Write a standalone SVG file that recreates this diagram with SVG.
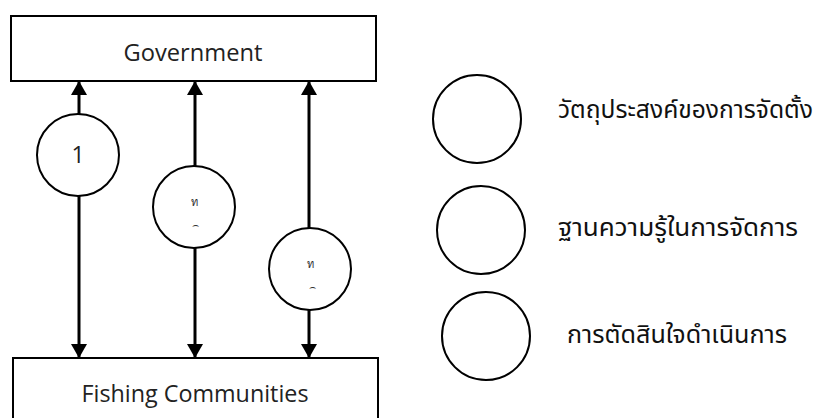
<svg xmlns="http://www.w3.org/2000/svg" width="816" height="418" viewBox="0 0 816 418">
<defs>
<marker id="ah" viewBox="0 0 14 16" refX="14" refY="8" markerWidth="14" markerHeight="16" markerUnits="userSpaceOnUse" orient="auto">
<path d="M0,0 L14,8 L0,16 Z" fill="#000"/>
</marker>
<style>
.box{fill:#fff;stroke:#000;stroke-width:2}
.circ{fill:#fff;stroke:#000;stroke-width:2}
.line{stroke:#000;stroke-width:3;fill:none}
.lbl{font-family:"Open Sans","Noto Sans",sans-serif;font-size:23px;fill:#222;text-anchor:middle}
.sm{font-family:"DejaVu Sans","Noto Sans",sans-serif;font-size:11px;fill:#333;text-anchor:middle}
.th{font-family:"Noto Sans Thai","DejaVu Sans","Noto Sans",sans-serif;font-size:24px;fill:#111}
</style>
</defs>
<g id="connectors">
<line class="line" x1="79" y1="220" x2="79" y2="81" marker-end="url(#ah)"/>
<line class="line" x1="79" y1="220" x2="79" y2="358" marker-end="url(#ah)"/>
<line class="line" x1="195" y1="220" x2="195" y2="81" marker-end="url(#ah)"/>
<line class="line" x1="195" y1="220" x2="195" y2="358" marker-end="url(#ah)"/>
<line class="line" x1="309" y1="220" x2="309" y2="81" marker-end="url(#ah)"/>
<line class="line" x1="309" y1="220" x2="309" y2="358" marker-end="url(#ah)"/>
</g>
<g id="government">
<rect class="box" x="11" y="16" width="365" height="65"/>
<text class="lbl" x="193" y="61" textLength="139" lengthAdjust="spacingAndGlyphs">Government</text>
</g>
<g id="fishing-communities">
<rect class="box" x="13" y="358" width="365" height="70"/>
<text class="lbl" x="195" y="402" textLength="227" lengthAdjust="spacingAndGlyphs">Fishing Communities</text>
</g>
<g id="circle-1">
<circle class="circ" cx="78" cy="155" r="41"/>
<text class="lbl" x="78" y="163">1</text>
</g>
<g id="circle-2">
<circle class="circ" cx="194" cy="207" r="41"/>
<text class="sm" x="194" y="206">ท</text>
<text class="sm" x="195" y="229">⌢</text>
</g>
<g id="circle-3">
<circle class="circ" cx="310" cy="269" r="41"/>
<text class="sm" x="310" y="268">ท</text>
<text class="sm" x="312" y="291">⌢</text>
</g>
<g id="legend-1">
<circle class="circ" cx="477" cy="119" r="44"/>
<text class="th" x="558" y="118" textLength="255" lengthAdjust="spacingAndGlyphs">วัตถุประสงค์ของการจัดตั้ง</text>
</g>
<g id="legend-2">
<circle class="circ" cx="481" cy="230" r="44"/>
<text class="th" x="558" y="236" textLength="240" lengthAdjust="spacingAndGlyphs">ฐานความรู้ในการจัดการ</text>
</g>
<g id="legend-3">
<circle class="circ" cx="486" cy="336" r="44"/>
<text class="th" x="567" y="343" textLength="220" lengthAdjust="spacingAndGlyphs">การตัดสินใจดำเนินการ</text>
</g>
</svg>
